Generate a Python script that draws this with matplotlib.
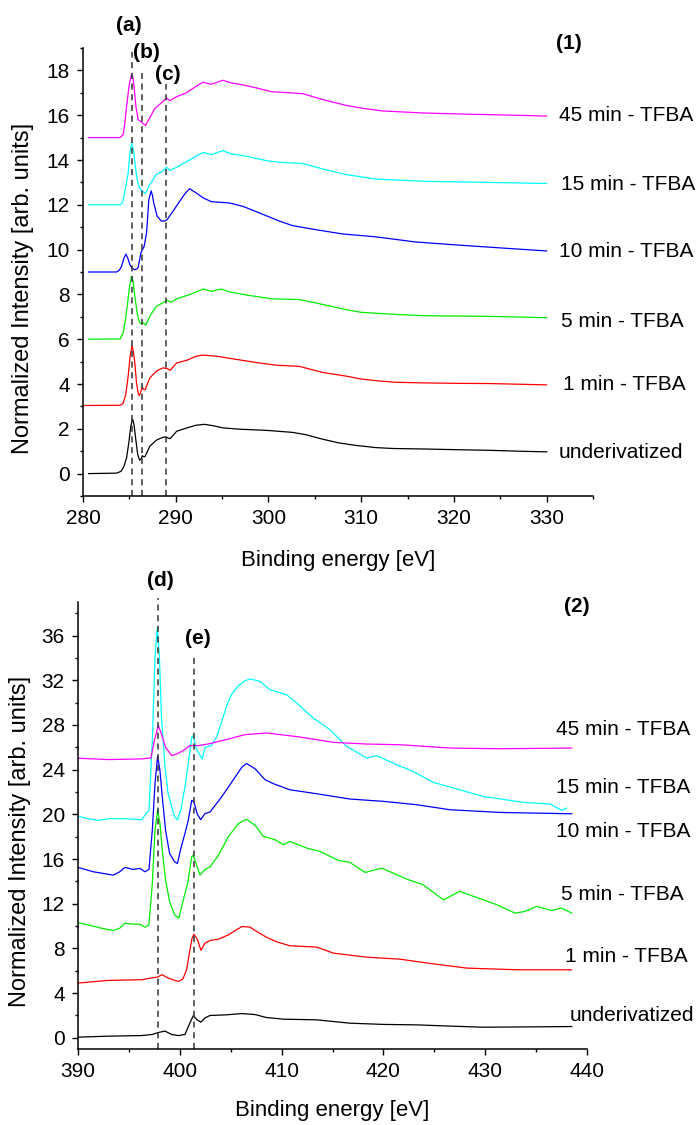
import numpy as np
import matplotlib
matplotlib.use("Agg")
import matplotlib.pyplot as plt
from matplotlib.ticker import MultipleLocator

plt.rcParams['font.family'] = ['Liberation Sans', 'DejaVu Sans']

##### DATA
# panel (1): C 1s region, (binding energy, intensity) pairs
c_under = np.array([(280.6, 0.0), (283.6, 0.02), (284.1, 0.1), (284.4, 0.3), (284.7, 0.7), (284.95, 1.4), (285.15, 2.1),
                    (285.34, 2.44), (285.5, 2.2), (285.7, 1.5), (285.9, 0.85), (286.1, 0.6), (286.25, 0.65), (286.4, 0.8),
                    (286.55, 0.75), (286.7, 0.77), (287.2, 1.22), (287.9, 1.49), (288.6, 1.62), (289.0, 1.63), (289.2, 1.58),
                    (289.4, 1.56), (289.7, 1.7), (290.1, 1.89), (291.2, 2.04), (292.2, 2.16), (293.1, 2.2), (294.0, 2.14),
                    (295.1, 2.04), (297.0, 1.98), (299.8, 1.93), (302.6, 1.84), (304.0, 1.74), (305.8, 1.54), (307.6, 1.37),
                    (309.4, 1.26), (311.6, 1.16), (313.5, 1.12), (316.6, 1.1), (320.0, 1.07), (323.8, 1.04),
                    (327.0, 1.0), (330.0, 0.97)])
c_1min = np.array([(280.0, 3.04), (284.0, 3.05), (284.3, 3.12), (284.6, 3.5), (284.87, 4.35), (285.1, 5.3), (285.3, 5.71),
                   (285.45, 5.4), (285.6, 4.9), (285.77, 4.05), (285.95, 3.6), (286.06, 3.48), (286.2, 3.6), (286.3, 3.75),
                   (286.4, 3.85), (286.55, 3.75), (286.7, 3.75), (287.2, 4.27), (287.9, 4.57), (288.6, 4.72), (289.1, 4.69),
                   (289.4, 4.61), (289.7, 4.75), (290.1, 4.94), (291.2, 5.06), (292.2, 5.24), (292.9, 5.29), (294.4, 5.24),
                   (296.2, 5.12), (299.0, 4.94), (300.8, 4.84), (303.3, 4.79), (305.8, 4.52), (308.4, 4.35),
                   (310.0, 4.22), (311.6, 4.15), (313.5, 4.08), (316.6, 4.05), (320.0, 4.03), (323.8, 4.02), (327.0, 3.99),
                   (330.0, 3.96)])
c_5min = np.array([(280.6, 6.0), (284.0, 6.01), (284.33, 6.28), (284.55, 6.8), (284.77, 7.47), (285.0, 8.3), (285.23, 8.81),
                   (285.4, 8.6), (285.6, 7.9), (285.84, 7.17), (286.05, 6.8), (286.24, 6.7), (286.49, 6.73), (286.77, 6.62),
                   (287.2, 7.02), (287.9, 7.47), (288.6, 7.62), (289.07, 7.74), (289.53, 7.65), (290.07, 7.8), (291.5, 7.99),
                   (292.94, 8.24), (293.84, 8.14), (294.9, 8.24), (295.8, 8.11), (297.97, 7.95), (300.46, 7.8), (303.33, 7.77),
                   (305.1, 7.62), (308.35, 7.32), (310.0, 7.2), (312.3, 7.14), (316.6, 7.05), (323.76, 7.02), (327.0, 6.99),
                   (330.0, 6.96)])
c_10min = np.array([(280.6, 9.0), (283.62, 9.0), (283.9, 9.07), (284.16, 9.25), (284.4, 9.6), (284.62, 9.8), (284.85, 9.6),
                    (285.05, 9.33), (285.3, 9.17), (285.6, 9.1), (285.8, 9.14), (285.95, 9.2), (286.24, 9.85), (286.6, 10.15),
                    (286.85, 10.74), (287.0, 11.6), (287.1, 12.23), (287.35, 12.62), (287.5, 12.4), (287.63, 12.08),
                    (288.0, 11.49), (288.46, 11.27), (288.8, 11.28), (289.07, 11.34), (289.7, 11.71), (290.43, 12.16),
                    (291.0, 12.5), (291.5, 12.72), (292.2, 12.53), (293.0, 12.3), (293.84, 12.14), (295.8, 12.08),
                    (297.26, 11.93), (299.0, 11.64), (301.2, 11.27), (302.6, 11.07), (305.1, 10.89), (307.97, 10.7),
                    (311.57, 10.57), (315.87, 10.34), (320.2, 10.21), (325.56, 10.06), (330.0, 9.94)])
c_15min = np.array([(280.6, 12.0), (284.05, 12.0), (284.25, 12.1), (284.41, 12.38), (284.65, 12.9), (284.87, 13.42),
                    (285.05, 14.3), (285.23, 14.75), (285.38, 14.55), (285.48, 14.32), (285.65, 13.7), (285.84, 13.12),
                    (286.05, 12.8), (286.3, 12.65), (286.74, 12.5), (287.2, 12.9), (287.9, 13.35), (288.6, 13.5),
                    (289.0, 13.68), (289.4, 13.53), (290.43, 13.75), (291.86, 14.09), (292.94, 14.34), (293.84, 14.24),
                    (295.09, 14.42), (295.99, 14.27), (297.26, 14.2), (299.77, 13.97), (301.2, 13.9), (303.7, 13.84),
                    (305.84, 13.6), (308.35, 13.35), (311.57, 13.15), (316.6, 13.05), (323.76, 13.0), (330.0, 12.95)])
c_45min = np.array([(280.6, 15.0), (283.98, 15.0), (284.33, 15.13), (284.5, 15.6), (284.7, 16.4), (285.0, 17.4),
                    (285.23, 17.81), (285.4, 17.66), (285.55, 17.1), (285.7, 16.4), (285.95, 15.8), (286.3, 15.7),
                    (286.5, 15.62), (286.74, 15.54), (287.2, 15.88), (287.74, 16.3), (288.46, 16.55), (289.0, 16.77),
                    (289.35, 16.65), (290.07, 16.82), (291.15, 17.0), (292.2, 17.29), (292.94, 17.47), (293.84, 17.38),
                    (295.09, 17.56), (295.99, 17.44), (296.9, 17.38), (298.7, 17.22), (300.3, 17.05), (302.3, 17.0),
                    (303.7, 16.96), (305.84, 16.7), (308.35, 16.44), (310.14, 16.31), (312.3, 16.19), (316.6, 16.1),
                    (321.97, 16.04), (325.56, 16.01), (330.0, 15.96)])

# panel (2): N 1s region
n_under = np.array([(390.0, 0.06), (393.0, 0.15), (396.25, 0.2), (397.27, 0.3), (398.0, 0.5), (398.55, 0.6), (399.2, 0.3),
                    (399.86, 0.2), (400.5, 0.3), (401.0, 1.34), (401.33, 1.99), (401.66, 1.63), (402.08, 1.4),
                    (402.47, 1.78), (402.97, 2.0), (404.45, 2.05), (406.1, 2.17), (407.4, 2.08), (408.5, 1.82),
                    (410.17, 1.67), (413.45, 1.61), (416.7, 1.31), (420.0, 1.2), (423.27, 1.16), (426.5, 1.05),
                    (429.8, 0.95), (434.7, 0.98), (438.5, 1.01)])
n_1min = np.array([(390.0, 4.9), (393.0, 5.14), (396.25, 5.2), (397.2, 5.35), (397.8, 5.44), (398.25, 5.65), (398.85, 5.35),
                   (399.5, 5.14), (399.86, 5.05), (400.3, 5.26), (400.67, 6.09), (401.0, 7.88), (401.2, 8.9), (401.4, 9.27),
                   (401.75, 8.77), (402.08, 7.82), (402.47, 8.47), (402.97, 8.71), (403.8, 8.83), (404.76, 9.21),
                   (406.1, 9.96), (406.9, 9.91), (407.4, 9.6), (408.5, 9.01), (409.5, 8.6), (410.8, 8.24), (413.45, 8.12),
                   (415.08, 7.58), (416.7, 7.4), (418.36, 7.22), (421.6, 7.04), (424.9, 6.62), (428.2, 6.24),
                   (433.1, 6.09), (438.5, 6.09)])
n_5min = np.array([(390.0, 10.31), (391.0, 10.1), (392.3, 9.81), (393.47, 9.6), (394.1, 9.81), (394.6, 10.25),
                   (395.27, 10.19), (396.09, 10.16), (396.58, 9.9), (396.97, 10.1), (397.3, 13.82), (397.56, 18.57),
                   (397.82, 20.36), (398.05, 19.17), (398.28, 16.79), (398.6, 14.12), (399.0, 12.18), (399.5, 11.0),
                   (399.9, 10.7), (400.3, 12.18), (400.77, 13.82), (401.17, 16.2), (401.33, 16.34), (401.6, 15.6),
                   (401.99, 14.56), (402.47, 15.07), (402.97, 15.3), (403.8, 16.34), (404.76, 17.98), (405.75, 19.17),
                   (406.56, 19.55), (407.4, 19.02), (408.2, 18.03), (409.35, 17.73), (410.17, 17.28), (410.8, 17.58),
                   (412.47, 16.98), (413.77, 16.68), (415.57, 15.88), (416.7, 15.7), (418.2, 14.8), (419.83, 15.19),
                   (422.3, 14.2), (423.9, 13.7), (425.9, 12.35), (427.5, 13.1), (429.8, 12.35), (431.13, 11.91),
                   (432.93, 11.16), (433.9, 11.31), (435.06, 11.76), (436.5, 11.4), (437.5, 11.61), (438.5, 11.16)])
n_10min = np.array([(390.0, 15.25), (391.5, 14.86), (393.47, 14.56), (394.1, 14.86), (394.6, 15.25), (395.4, 15.07),
                    (396.09, 15.16), (396.58, 14.86), (396.97, 15.07), (397.3, 18.57), (397.56, 22.73), (397.82, 25.2),
                    (398.05, 23.92), (398.28, 21.55), (398.6, 18.57), (399.0, 16.49), (399.5, 15.75), (399.77, 15.6),
                    (400.1, 16.94), (400.5, 18.28), (400.83, 19.46), (401.17, 21.25), (401.4, 21.1), (401.7, 20.06),
                    (402.05, 19.52), (402.47, 20.06), (402.97, 20.21), (404.1, 21.55), (405.1, 22.88), (406.1, 24.22),
                    (406.56, 24.55), (407.4, 24.07), (408.37, 23.1), (409.2, 22.74), (410.8, 22.2), (413.45, 21.84),
                    (416.7, 21.37), (420.0, 21.16), (423.27, 20.86), (426.54, 20.41), (431.45, 20.17), (438.5, 20.05)])
n_15min = np.array([(390.0, 19.82), (391.0, 19.61), (392.0, 19.46), (393.0, 19.61), (394.6, 19.61), (396.25, 19.52),
                    (396.64, 20.0), (396.97, 20.36), (397.3, 26.6), (397.56, 34.03), (397.79, 36.76), (398.0, 34.03),
                    (398.2, 28.68), (398.55, 24.22), (398.85, 21.84), (399.26, 20.5), (399.5, 19.76), (399.77, 19.52),
                    (400.1, 20.36), (400.5, 22.44), (400.83, 24.52), (401.17, 26.9), (401.33, 27.04), (401.57, 26.0),
                    (401.9, 25.4), (402.2, 24.96), (402.5, 26.0), (403.1, 26.15), (403.6, 26.9), (404.1, 28.23),
                    (404.6, 29.72), (405.1, 30.76), (405.75, 31.5), (406.4, 31.95), (406.9, 32.11), (407.88, 31.9),
                    (408.86, 31.15), (410.5, 30.7), (411.48, 29.96), (413.1, 28.62), (414.75, 27.57), (416.4, 26.08),
                    (418.36, 25.04), (419.34, 25.25), (421.3, 24.44), (422.9, 23.84), (424.9, 22.86), (426.54, 22.44),
                    (429.8, 21.6), (433.74, 21.07), (436.37, 20.92), (437.5, 20.35), (438.0, 20.56)])
n_45min = np.array([(390.0, 25.02), (391.5, 24.96), (393.0, 24.9), (394.6, 24.93), (396.25, 24.96), (397.17, 25.05),
                    (397.5, 26.6), (397.89, 27.93), (398.2, 27.19), (398.6, 26.0), (399.2, 25.26), (399.69, 25.4),
                    (400.33, 25.7), (400.99, 26.15), (401.82, 26.15), (402.8, 26.3), (404.45, 26.66), (406.4, 27.13),
                    (408.5, 27.28), (411.8, 26.92), (415.08, 26.44), (418.36, 26.29), (421.6, 26.23), (426.54, 25.93),
                    (431.45, 25.87), (438.5, 25.93)])

series_names = ["underivatized", "1 min - TFBA", "5 min - TFBA", "10 min - TFBA", "15 min - TFBA", "45 min - TFBA"]
series_colors = ["#000000", "#ff0000", "#00ee00", "#0000ff", "#00ffff", "#ff00ff"]

c_label_pos = [(331.3, 0.95), (331.8, 4.0), (331.5, 6.8), (331.3, 9.9), (331.5, 12.9), (331.3, 16.0)]
n_label_pos = [(438.3, 2.0), (437.8, 7.3), (437.4, 12.8), (437.0, 18.5), (437.0, 22.4), (437.0, 27.6)]

c_peaks = [285.25, 286.35, 289.0]
c_peak_tops = [18.8, 17.9, 17.4]
c_peak_names = ["(a)", "(b)", "(c)"]
c_peak_text = [(284.9, 20.0), (286.85, 18.8), (289.1, 17.8)]

n_peaks = [397.9, 401.4]
n_peak_tops = [39.4, 34.3]
n_peak_names = ["(d)", "(e)"]
n_peak_text = [(398.1, 40.9), (401.8, 35.7)]


def style_axis(ax, xlim, ylim, xmaj, ymaj, ymin):
    ax.set_xlim(*xlim)
    ax.set_ylim(*ylim)
    for s in ['top', 'right']:
        ax.spines[s].set_visible(False)
    for s in ['left', 'bottom']:
        ax.spines[s].set_linewidth(1.1)
    ax.xaxis.set_major_locator(MultipleLocator(xmaj))
    ax.xaxis.set_minor_locator(MultipleLocator(xmaj / 2))
    ax.yaxis.set_major_locator(MultipleLocator(ymaj))
    ax.yaxis.set_minor_locator(MultipleLocator(ymin))
    ax.tick_params(which='major', direction='out', length=4.5, width=1.0, labelsize=15, pad=5)
    ax.tick_params(which='minor', direction='out', length=2.5, width=1.0)
    ax.set_xlabel("Binding energy [eV]", fontsize=16)
    ax.set_ylabel("Normalized Intensity [arb. units]", fontsize=17)
    ax.xaxis.label.set_va('center')
    ax.yaxis.label.set_va('center')


fig = plt.figure(figsize=(6.97, 11.25), dpi=100)

# panel (1)
ax1 = fig.add_axes([83 / 697, 1 - 496 / 1125, 510 / 697, 448 / 1125])
for data, col in zip([c_under, c_1min, c_5min, c_10min, c_15min, c_45min], series_colors):
    ax1.plot(data[:, 0], data[:, 1], color=col, lw=0.9)
for name, (tx, ty) in zip(series_names, c_label_pos):
    ax1.text(tx, ty, name, fontsize=15, ha='left', va='center', clip_on=False)
for xp, top in zip(c_peaks, c_peak_tops):
    ax1.plot([xp, xp], [-1, top], color='#333333', lw=1.1, ls=(0, (4, 3)), clip_on=False)
for name, (tx, ty) in zip(c_peak_names, c_peak_text):
    ax1.text(tx, ty, name, fontsize=15, fontweight='bold', ha='center', va='center', clip_on=False)
ax1.text(332.4, 19.2, "(1)", fontsize=15, fontweight='bold', ha='center', va='center', clip_on=False)
style_axis(ax1, (280, 335), (-1, 19), 10, 2, 1)
ax1.xaxis.set_label_coords(0.5, -0.143)
ax1.yaxis.set_label_coords(-0.118, 0.464)

# panel (2)
ax2 = fig.add_axes([78 / 697, 1 - 1049 / 1125, 509 / 697, 447 / 1125])
for data, col in zip([n_under, n_1min, n_5min, n_10min, n_15min, n_45min], series_colors):
    ax2.plot(data[:, 0], data[:, 1], color=col, lw=0.9)
for name, (tx, ty) in zip(series_names, n_label_pos):
    ax2.text(tx, ty, name, fontsize=15, ha='left', va='center', clip_on=False)
for xp, top in zip(n_peaks, n_peak_tops):
    ax2.plot([xp, xp], [-1, top], color='#333333', lw=1.1, ls=(0, (4, 3)), clip_on=False)
for name, (tx, ty) in zip(n_peak_names, n_peak_text):
    ax2.text(tx, ty, name, fontsize=15, fontweight='bold', ha='center', va='center', clip_on=False)
ax2.text(439.0, 38.6, "(2)", fontsize=15, fontweight='bold', ha='center', va='center', clip_on=False)
style_axis(ax2, (390, 440), (-1, 39), 10, 4, 2)
ax2.xaxis.set_label_coords(0.5, -0.137)
ax2.yaxis.set_label_coords(-0.114, 0.464)

fig.savefig("out.png", dpi=100)
